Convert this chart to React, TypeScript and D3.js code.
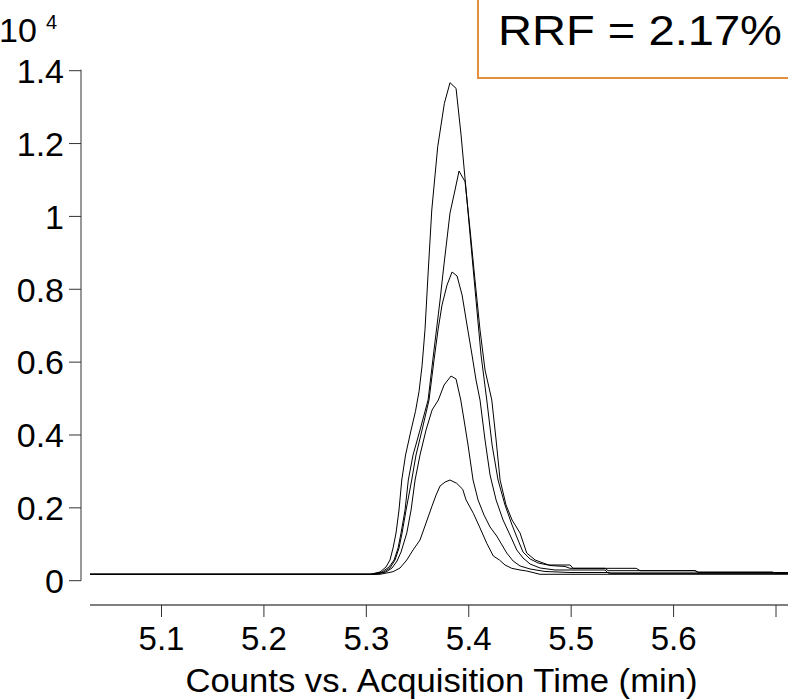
import React from "react";
import * as d3 from "d3";

// Five overlaid chromatogram traces: [time (min), counts]
const traceA: [number, number][] = [
  [5.0302, 176], [5.3036, 176], [5.3134, 239], [5.3192, 376], [5.3231, 568], [5.3261, 898],
  [5.329, 1309], [5.3319, 1941], [5.3346, 2764], [5.3383, 3450], [5.3437, 4137], [5.348, 4650],
  [5.3515, 5200], [5.3544, 5900], [5.3573, 6900], [5.3605, 8529], [5.3639, 10176], [5.3697, 11913],
  [5.3762, 13105], [5.3817, 13670], [5.3876, 13516], [5.3925, 12234], [5.3974, 10725], [5.4022, 9215],
  [5.4071, 7705], [5.412, 6195], [5.4176, 4960], [5.4228, 3725], [5.4286, 2764], [5.4354, 2078],
  [5.4423, 1529], [5.4481, 1117], [5.453, 788], [5.4599, 596], [5.4677, 486], [5.4774, 431],
  [5.4989, 431], [5.5019, 340], [5.5634, 340], [5.5673, 275], [5.621, 275], [5.624, 239],
  [5.6963, 239], [5.7002, 203], [5.7118, 203],
];
const traceB: [number, number][] = [
  [5.0302, 176], [5.3056, 176], [5.3153, 239], [5.3222, 376], [5.3271, 568], [5.331, 898],
  [5.3339, 1309], [5.3378, 1941], [5.341, 2764], [5.3456, 3450], [5.3524, 4137], [5.3603, 4960],
  [5.3661, 6333], [5.372, 7705], [5.3752, 8529], [5.3817, 10093], [5.3866, 10725], [5.3905, 11246],
  [5.3964, 10953], [5.4013, 9627], [5.4061, 8254], [5.411, 6882], [5.4159, 5784], [5.4225, 4960],
  [5.4267, 3862], [5.4306, 2764], [5.4364, 2078], [5.4423, 1666], [5.4501, 1309], [5.4566, 760],
  [5.4648, 568], [5.4726, 486], [5.4794, 417], [5.494, 390], [5.4989, 340], [5.5331, 340],
  [5.536, 275], [5.621, 275], [5.624, 225], [5.7118, 225],
];
const traceC: [number, number][] = [
  [5.0302, 176], [5.3075, 176], [5.3173, 239], [5.3231, 349], [5.328, 568], [5.3319, 898],
  [5.3349, 1309], [5.3388, 1941], [5.3443, 2764], [5.3485, 3450], [5.3544, 4137], [5.3612, 4960],
  [5.3661, 6058], [5.37, 6882], [5.3739, 7568], [5.3788, 8117], [5.3837, 8474], [5.3886, 8364],
  [5.3935, 7842], [5.3983, 7019], [5.4032, 6195], [5.4071, 5509], [5.411, 4960], [5.4159, 3862],
  [5.4208, 2901], [5.4267, 2215], [5.4335, 1666], [5.4403, 1254], [5.4469, 843], [5.453, 623],
  [5.4599, 458], [5.4696, 349], [5.4843, 294], [5.5331, 294], [5.536, 211], [5.7118, 211],
];
const traceD: [number, number][] = [
  [5.0302, 176], [5.3095, 176], [5.3192, 239], [5.3251, 349], [5.33, 541], [5.3339, 788],
  [5.3395, 1309], [5.3437, 1941], [5.3476, 2764], [5.3524, 3450], [5.3583, 4137], [5.3642, 4686],
  [5.3703, 4960], [5.3759, 5372], [5.3827, 5619], [5.3876, 5537], [5.3922, 4960], [5.3954, 4411],
  [5.3993, 3725], [5.4042, 2764], [5.4091, 2215], [5.4149, 1803], [5.4208, 1474], [5.4273, 1227],
  [5.4325, 980], [5.4371, 760], [5.4433, 541], [5.4501, 404], [5.4599, 321], [5.4745, 253],
  [5.4989, 225], [5.536, 225], [5.539, 203], [5.7118, 203],
];
const traceE: [number, number][] = [
  [5.0302, 176], [5.3134, 176], [5.3261, 247], [5.3329, 349], [5.3395, 568], [5.3456, 843],
  [5.3524, 1117], [5.3583, 1584], [5.3639, 2031], [5.3681, 2352], [5.372, 2600], [5.3769, 2709],
  [5.3817, 2764], [5.3882, 2674], [5.3941, 2509], [5.3974, 2215], [5.4045, 1850], [5.411, 1447],
  [5.4176, 1027], [5.424, 678], [5.43, 568], [5.4354, 431], [5.442, 340], [5.4501, 294],
  [5.4566, 266], [5.4696, 176], [5.7118, 176],
];
const traces = [traceA, traceB, traceC, traceD, traceE];

const yTickValues = [0, 2000, 4000, 6000, 8000, 10000, 12000, 14000];
const yTickLabels = ["0", "0.2", "0.4", "0.6", "0.8", "1", "1.2", "1.4"];
const xTickValues = [5.1, 5.2, 5.3, 5.4, 5.5, 5.6, 5.7];
const xTickLabels = ["5.1", "5.2", "5.3", "5.4", "5.5", "5.6", ""];

const xAxisTitle = "Counts vs. Acquisition Time (min)";
const exponentBase = "10";
const exponentPower = "4";
const annotation = "RRF = 2.17%";

const FONT = "'Liberation Sans', Arial, Helvetica, sans-serif";

export default function App() {
  const W = 788;
  const H = 699;
  const x = d3.scaleLinear().domain([5.1, 5.7]).range([161.5, 776]);
  const y = d3.scaleLinear().domain([0, 14000]).range([580.7, 70.7]);
  const line = d3
    .line<[number, number]>()
    .x((d) => x(d[0]))
    .y((d) => y(d[1]));

  const xAxisY = 605;
  const yAxisX = 81;
  const plotLeft = x(5.0302);

  return (
    <svg
      width={W}
      height={H}
      viewBox={`0 0 ${W} ${H}`}
      style={{ position: "absolute", left: 0, top: 0, background: "#fff" }}
      fontFamily={FONT}
    >
      <rect x={0} y={0} width={W} height={H} fill="#fff" />
      {/* y axis */}
      <line x1={yAxisX} x2={yAxisX} y1={y(14000) - 1} y2={y(0)} stroke="#333" strokeWidth={1} />
      {yTickValues.map((v, i) => (
        <g key={"yt" + i}>
          <line x1={yAxisX - 12} x2={yAxisX} y1={y(v)} y2={y(v)} stroke="#333" strokeWidth={1} />
          <text x={64} y={y(v)} dy="0.36em" textAnchor="end" fontSize={34} fill="#000">
            {yTickLabels[i]}
          </text>
        </g>
      ))}
      {/* exponent label */}
      <text x={-1} y={42} fontSize={34} fill="#000">
        {exponentBase}
      </text>
      <text x={46} y={29} fontSize={20} fill="#000">
        {exponentPower}
      </text>

      {/* x axis */}
      <line x1={plotLeft} x2={W} y1={xAxisY} y2={xAxisY} stroke="#000" strokeWidth={1} />
      {xTickValues.map((v, i) => (
        <g key={"xt" + i}>
          <line x1={x(v)} x2={x(v)} y1={xAxisY} y2={xAxisY + 12} stroke="#333" strokeWidth={1} />
          <text x={x(v)} y={650} textAnchor="middle" fontSize={33} fill="#000">
            {xTickLabels[i]}
          </text>
        </g>
      ))}
      <text x={441.5} y={692} textAnchor="middle" fontSize={34} fill="#000" textLength={512} lengthAdjust="spacingAndGlyphs">
        {xAxisTitle}
      </text>

      {/* traces */}
      {traces.map((t, i) => (
        <path key={"tr" + i} d={line(t) || ""} fill="none" stroke="#000" strokeWidth={1} />
      ))}

      {/* annotation box */}
      <rect x={478} y={-10} width={330} height={88} fill="#fff" stroke="#E58E3C" strokeWidth={2} />
      <text x={498} y={45} fontSize={42} fill="#000" textLength={284} lengthAdjust="spacingAndGlyphs">
        {annotation}
      </text>
    </svg>
  );
}
